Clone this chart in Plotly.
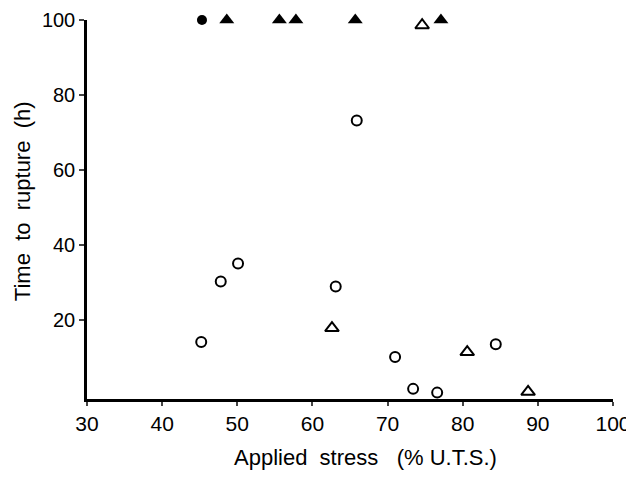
import plotly.graph_objects as go

# Open circles
oc_x = [45.2, 47.8, 50.1, 63.1, 65.9, 71.0, 73.4, 76.6, 84.4]
oc_y = [14.2, 30.3, 35.1, 29.0, 73.2, 10.2, 1.7, 0.7, 13.6]
# Filled circles
fc_x = [45.3]
fc_y = [100]
# Open triangles
ot_x = [62.6, 74.6, 80.6, 88.7]
ot_y = [17.9, 98.6, 11.5, 0.9]
# Filled triangles
ft_x = [48.6, 55.6, 57.8, 65.7, 77.1]
ft_y = [100, 100, 100, 100, 100]

x_ticks = [30, 40, 50, 60, 70, 80, 90, 100]
y_ticks = [20, 40, 60, 80, 100]

fig = go.Figure()
fig.add_trace(go.Scatter(x=oc_x, y=oc_y, mode="markers",
                         marker=dict(symbol="circle-open", size=10, color="black", line=dict(width=2))))
fig.add_trace(go.Scatter(x=fc_x, y=fc_y, mode="markers",
                         marker=dict(symbol="circle", size=10, color="black")))
fig.add_trace(go.Scatter(x=ot_x, y=ot_y, mode="markers",
                         marker=dict(symbol="triangle-up-open", size=12, color="black", line=dict(width=2))))
fig.add_trace(go.Scatter(x=ft_x, y=ft_y, mode="markers",
                         marker=dict(symbol="triangle-up", size=13, color="black")))
for tr in fig.data:
    tr.cliponaxis = False

fam = "Liberation Sans, Arial, sans-serif"
fig.update_layout(
    width=626, height=475,
    margin=dict(l=79, r=21, t=12, b=84),
    paper_bgcolor="white", plot_bgcolor="white",
    showlegend=False,
    font=dict(family=fam, size=20, color="black"),
    xaxis=dict(range=[30, 100], tickvals=x_ticks, ticks="outside", ticklen=4, tickwidth=1.5,
               showline=True, linecolor="black", linewidth=2.5, showgrid=False, zeroline=False,
               automargin=False, ticklabeloverflow="allow",
               tickfont=dict(family=fam, size=21, color="black")),
    yaxis=dict(range=[-1, 100], tickvals=y_ticks, ticks="outside", ticklen=5, tickwidth=1.5,
               showline=True, linecolor="black", linewidth=2.5, showgrid=False, zeroline=False,
               automargin=False, ticklabeloverflow="allow",
               tickfont=dict(family=fam, size=20, color="black")),
    annotations=[
        dict(text="Applied  stress   (% U.T.S.)", xref="paper", yref="paper",
             x=0.529, y=-0.155, showarrow=False, xanchor="center", yanchor="middle",
             font=dict(family=fam, size=22, color="black")),
        dict(text="Time  to  rupture  (h)", xref="paper", yref="paper",
             x=-0.1236, y=0.522, showarrow=False, textangle=-90, xanchor="center", yanchor="middle",
             font=dict(family=fam, size=22, color="black")),
    ],
)
fig.write_html("out.html")
